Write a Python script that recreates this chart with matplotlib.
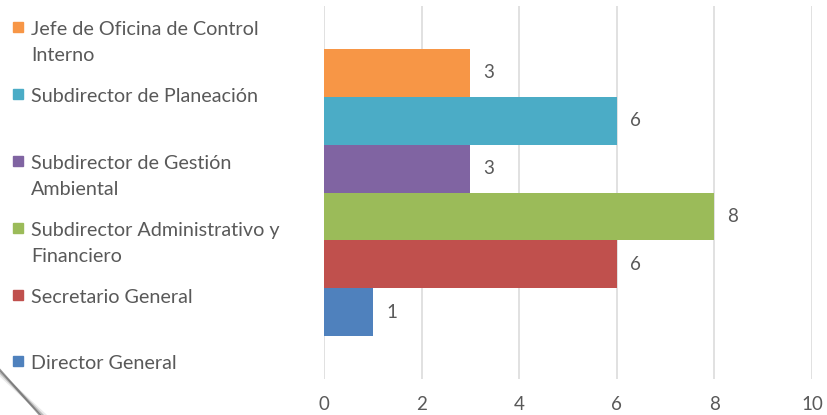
import matplotlib
matplotlib.use("Agg")
import matplotlib.pyplot as plt
from matplotlib.patches import Rectangle
from matplotlib.lines import Line2D

# Data (bottom to top)
categories = ["Director General", "Secretario General",
              "Subdirector Administrativo y\nFinanciero",
              "Subdirector de Gestión\nAmbiental",
              "Subdirector de Planeación",
              "Jefe de Oficina de Control\nInterno"]
values = [1, 6, 8, 3, 6, 3]
colors = ["#4F81BD", "#C0504D", "#9BBB59", "#8064A2", "#4BACC6", "#F79646"]
xticks = [0, 2, 4, 6, 8, 10]

W, H = 828, 415
fig = plt.figure(figsize=(W / 100, H / 100), dpi=100)
fig.patch.set_facecolor("white")
FONT = "Lato"
TXT = "#595959"

ax = fig.add_axes([324 / W, 1 - 379 / H, (812 - 324) / W, (379 - 6) / H])
ypos = list(range(len(values)))
ax.barh(ypos, values, height=1.0, color=colors, zorder=3)
for y, v in zip(ypos, values):
    ax.text(v + 0.27, y, str(v), ha="left", va="center", fontsize=13.5,
            color=TXT, family=FONT)
ax.set_xlim(0, 10)
ax.set_ylim(-1.4, 6.4)
ax.set_xticks(xticks)
ax.set_xticklabels([str(t) for t in xticks], fontsize=13.5, color=TXT, family=FONT)
ax.set_yticks([])
ax.tick_params(axis="x", length=0, pad=12)
ax.grid(axis="x", color="#D9D9D9", linewidth=1.1, zorder=0)
for s in ax.spines.values():
    s.set_visible(False)

# Legend (manual), top to bottom
leg_y = [27, 94, 161, 228, 295, 361]
for i, (lab, col) in enumerate(zip(categories[::-1], colors[::-1])):
    yc = leg_y[i]
    fig.add_artist(Rectangle((13 / W, 1 - (yc + 5) / H), 10 / W, 10 / H,
                             transform=fig.transFigure, color=col))
    fig.text(31 / W, 1 - (yc - 6) / H, lab, ha="left", va="top",
             fontsize=14.2, color=TXT, family=FONT, linespacing=1.62)

# page-curl shadow at bottom-left corner
for off, a, lw in [(0, 0.6, 1.5), (2, 0.3, 2), (4, 0.12, 3)]:
    fig.add_artist(Line2D([0, (40 + off) / W], [1 - (370 + off) / H, 0],
                          transform=fig.transFigure, color="#555555",
                          alpha=a, linewidth=lw))

fig.savefig("out.png", dpi=100, facecolor="white")
